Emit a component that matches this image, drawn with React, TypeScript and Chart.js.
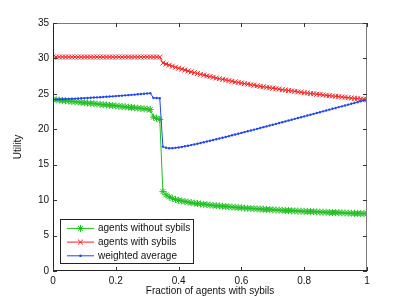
import React, { useEffect, useRef } from "react";
import { Chart, registerables } from "chart.js";

Chart.register(...registerables);

const fractions = [
  0, 0.01, 0.02, 0.03, 0.04, 0.05, 0.06, 0.07, 0.08, 0.09,
  0.1, 0.11, 0.12, 0.13, 0.14, 0.15, 0.16, 0.17, 0.18, 0.19,
  0.2, 0.21, 0.22, 0.23, 0.24, 0.25, 0.26, 0.27, 0.28, 0.29,
  0.3, 0.31, 0.32, 0.33, 0.34, 0.35, 0.36, 0.37, 0.38, 0.39,
  0.4, 0.41, 0.42, 0.43, 0.44, 0.45, 0.46, 0.47, 0.48, 0.49,
  0.5, 0.51, 0.52, 0.53, 0.54, 0.55, 0.56, 0.57, 0.58, 0.59,
  0.6, 0.61, 0.62, 0.63, 0.64, 0.65, 0.66, 0.67, 0.68, 0.69,
  0.7, 0.71, 0.72, 0.73, 0.74, 0.75, 0.76, 0.77, 0.78, 0.79,
  0.8, 0.81, 0.82, 0.83, 0.84, 0.85, 0.86, 0.87, 0.88, 0.89,
  0.9, 0.91, 0.92, 0.93, 0.94, 0.95, 0.96, 0.97, 0.98, 0.99,
  1,
];

const withoutSybils = [
  24.2, 24.16, 24.11, 24.07, 24.02, 23.98, 23.93, 23.89, 23.84, 23.8,
  23.75, 23.71, 23.66, 23.62, 23.57, 23.53, 23.48, 23.44, 23.39, 23.35,
  23.3, 23.26, 23.21, 23.17, 23.12, 23.08, 23.03, 22.99, 22.94, 22.9,
  22.85, 22.78, 21.72, 21.55, 21.4, 11.2, 10.75, 10.45, 10.25, 10.1,
  9.98, 9.88, 9.8, 9.72, 9.65, 9.58, 9.52, 9.46, 9.41, 9.36,
  9.31, 9.27, 9.22, 9.18, 9.14, 9.1, 9.06, 9.03, 8.99, 8.96,
  8.92, 8.89, 8.86, 8.83, 8.8, 8.77, 8.74, 8.72, 8.69, 8.66,
  8.64, 8.61, 8.59, 8.57, 8.54, 8.52, 8.5, 8.48, 8.46, 8.44,
  8.42, 8.4, 8.38, 8.36, 8.34, 8.32, 8.3, 8.29, 8.27, 8.25,
  8.24, 8.22, 8.21, 8.19, 8.17, 8.16, 8.14, 8.13, 8.11, 8.1,
  8.08,
];

const withSybils = [
  30.2, 30.2, 30.2, 30.2, 30.2, 30.2, 30.2, 30.2, 30.2, 30.2,
  30.2, 30.2, 30.2, 30.2, 30.2, 30.2, 30.2, 30.2, 30.2, 30.2,
  30.2, 30.2, 30.2, 30.2, 30.2, 30.2, 30.2, 30.2, 30.2, 30.2,
  30.2, 30.2, 30.2, 30.2, 30.2, 29.35, 29.2, 29.05, 28.9, 28.76,
  28.62, 28.49, 28.36, 28.23, 28.11, 27.99, 27.87, 27.76, 27.65, 27.54,
  27.44, 27.34, 27.24, 27.14, 27.05, 26.96, 26.87, 26.78, 26.69, 26.61,
  26.53, 26.45, 26.37, 26.29, 26.22, 26.14, 26.07, 26.0, 25.93, 25.86,
  25.79, 25.72, 25.66, 25.59, 25.53, 25.47, 25.41, 25.35, 25.29, 25.23,
  25.17, 25.12, 25.06, 25.01, 24.95, 24.9, 24.85, 24.8, 24.75, 24.7,
  24.65, 24.6, 24.55, 24.5, 24.46, 24.41, 24.37, 24.32, 24.28, 24.23,
  24.19,
];

const weightedAverage = [
  24.2, 24.22, 24.23, 24.25, 24.27, 24.29, 24.31, 24.33, 24.35, 24.38,
  24.4, 24.42, 24.45, 24.48, 24.5, 24.53, 24.56, 24.59, 24.62, 24.65,
  24.68, 24.72, 24.75, 24.79, 24.82, 24.86, 24.89, 24.94, 24.97, 25.02,
  25.06, 25.08, 24.43, 24.41, 24.39, 17.55, 17.39, 17.33, 17.34, 17.38,
  17.44, 17.51, 17.6, 17.68, 17.77, 17.87, 17.96, 18.06, 18.17, 18.27,
  18.38, 18.49, 18.59, 18.7, 18.81, 18.92, 19.03, 19.15, 19.26, 19.37,
  19.49, 19.6, 19.72, 19.83, 19.95, 20.06, 20.18, 20.3, 20.41, 20.53,
  20.65, 20.76, 20.88, 21.0, 21.11, 21.23, 21.35, 21.47, 21.59, 21.7,
  21.82, 21.94, 22.06, 22.18, 22.29, 22.41, 22.53, 22.65, 22.77, 22.89,
  23.01, 23.13, 23.24, 23.36, 23.48, 23.6, 23.72, 23.83, 23.96, 24.07,
  24.19,
];

const seriesLabels = ["agents without sybils", "agents with sybils", "weighted average"];
const xTicks = [0, 0.2, 0.4, 0.6, 0.8, 1];
const yTicks = [0, 5, 10, 15, 20, 25, 30, 35];
const xTitle = "Fraction of agents with sybils";
const yTitle = "Utility";

const FONT = "'Liberation Sans', Arial, Helvetica, sans-serif";
const GREEN = "#1fbf1f";
const RED = "#f02424";
const BLUE = "#2244f2";

function drawMarker(ctx: CanvasRenderingContext2D, style: string, x: number, y: number, r: number, color: string) {
  ctx.save();
  ctx.strokeStyle = color;
  ctx.fillStyle = color;
  ctx.lineWidth = 1;
  ctx.beginPath();
  if (style === "star") {
    ctx.moveTo(x - r, y); ctx.lineTo(x + r, y);
    ctx.moveTo(x, y - r); ctx.lineTo(x, y + r);
    const d = r * 0.707;
    ctx.moveTo(x - d, y - d); ctx.lineTo(x + d, y + d);
    ctx.moveTo(x - d, y + d); ctx.lineTo(x + d, y - d);
    ctx.stroke();
  } else if (style === "crossRot") {
    const d = r * 0.707;
    ctx.moveTo(x - d, y - d); ctx.lineTo(x + d, y + d);
    ctx.moveTo(x - d, y + d); ctx.lineTo(x + d, y - d);
    ctx.stroke();
  } else {
    ctx.arc(x, y, r, 0, Math.PI * 2);
    ctx.fill();
  }
  ctx.restore();
}

const framePlugin = {
  id: "matlabFrame",
  afterDraw(chart: any) {
    const ctx: CanvasRenderingContext2D = chart.ctx;
    const { left, right, top, bottom } = chart.chartArea;
    const xs = chart.scales.x;
    const ys = chart.scales.y;
    ctx.save();
    ctx.lineWidth = 1;
    ctx.strokeStyle = "#7a7a7a";
    ctx.beginPath();
    ctx.moveTo(left, top + 0.5); ctx.lineTo(right, top + 0.5);
    ctx.moveTo(right - 0.5, top); ctx.lineTo(right - 0.5, bottom);
    ctx.stroke();
    ctx.strokeStyle = "#222";
    ctx.beginPath();
    ctx.moveTo(left + 0.5, top); ctx.lineTo(left + 0.5, bottom);
    ctx.moveTo(left, bottom - 0.5); ctx.lineTo(right, bottom - 0.5);
    ctx.stroke();
    const tl = 4;
    ctx.strokeStyle = "#333";
    ctx.beginPath();
    xTicks.forEach((v) => {
      const px = Math.round(xs.getPixelForValue(v)) + 0.5;
      ctx.moveTo(px, bottom); ctx.lineTo(px, bottom - tl);
      ctx.moveTo(px, top); ctx.lineTo(px, top + tl);
    });
    yTicks.forEach((v) => {
      const py = Math.round(ys.getPixelForValue(v)) + 0.5;
      ctx.moveTo(left, py); ctx.lineTo(left + tl, py);
      ctx.moveTo(right, py); ctx.lineTo(right - tl, py);
    });
    ctx.stroke();

    const styles = ["star", "crossRot", "circle"];
    const radii = [3.5, 3.5, 1.3];
    ctx.font = `10px ${FONT}`;
    const textW = Math.max(...seriesLabels.map((s) => ctx.measureText(s).width));
    const lx = left + 7;
    const rowH = 13.7;
    const lh = rowH * 3 + 2.5;
    const lw = 7 + 27 + 4 + textW + 3;
    const ly = bottom - 8 - lh;
    ctx.fillStyle = "#fff";
    ctx.fillRect(lx, ly, lw, lh);
    ctx.strokeStyle = "#222";
    ctx.strokeRect(Math.round(lx) + 0.5, Math.round(ly) + 0.5, Math.round(lw), Math.round(lh));
    chart.data.datasets.forEach((ds: any, i: number) => {
      const cy = ly + 9 + i * rowH;
      ctx.strokeStyle = ds.borderColor;
      ctx.lineWidth = 1;
      ctx.beginPath();
      ctx.moveTo(lx + 7, cy); ctx.lineTo(lx + 34, cy);
      ctx.stroke();
      drawMarker(ctx, styles[i], lx + 20.5, cy, radii[i], ds.borderColor);
      ctx.fillStyle = "#111";
      ctx.textBaseline = "middle";
      ctx.textAlign = "left";
      ctx.fillText(ds.label, lx + 38, cy);
    });
    ctx.restore();
  },
};

export default function App() {
  const ref = useRef<HTMLCanvasElement | null>(null);

  useEffect(() => {
    if (!ref.current) return;
    const mk = (ys: number[]) => fractions.map((x, i) => ({ x, y: ys[i] }));
    const chart = new Chart(ref.current, {
      type: "line",
      data: {
        datasets: [
          {
            label: seriesLabels[0],
            data: mk(withoutSybils),
            borderColor: GREEN,
            backgroundColor: GREEN,
            borderWidth: 1,
            pointStyle: "star",
            pointRadius: 3.5,
            pointBorderWidth: 1,
            order: 2,
          },
          {
            label: seriesLabels[1],
            data: mk(withSybils),
            borderColor: RED,
            backgroundColor: RED,
            borderWidth: 1,
            pointStyle: "crossRot",
            pointRadius: 3.5,
            pointBorderWidth: 1,
            order: 1,
          },
          {
            label: seriesLabels[2],
            data: mk(weightedAverage),
            borderColor: BLUE,
            backgroundColor: BLUE,
            borderWidth: 1,
            pointStyle: "circle",
            pointRadius: 1.2,
            pointBorderWidth: 0,
            order: 0,
          },
        ],
      },
      options: {
        animation: false,
        responsive: false,
        events: [],
        layout: { padding: { top: 23, right: 38, left: 0, bottom: 0 } },
        plugins: { legend: { display: false }, tooltip: { enabled: false } },
        scales: {
          x: {
            type: "linear",
            min: 0,
            max: 1,
            grid: { display: false, drawTicks: false },
            border: { display: false },
            afterBuildTicks: (s: any) => {
              s.ticks = xTicks.map((v) => ({ value: v }));
            },
            afterFit: (s: any) => {
              s.height = 34;
            },
            ticks: {
              color: "#111",
              font: { family: FONT, size: 10 },
              padding: 4,
              maxRotation: 0,
              autoSkip: false,
              callback: (v: any) => String(v),
            },
            title: {
              display: true,
              text: xTitle,
              color: "#111",
              font: { family: FONT, size: 10 },
              padding: { top: 8, bottom: 8 },
            },
          },
          y: {
            type: "linear",
            min: 0,
            max: 35,
            grid: { display: false, drawTicks: false },
            border: { display: false },
            afterBuildTicks: (s: any) => {
              s.ticks = yTicks.map((v) => ({ value: v }));
            },
            afterFit: (s: any) => {
              s.width = 53;
            },
            ticks: {
              color: "#111",
              font: { family: FONT, size: 10 },
              padding: 4,
              autoSkip: false,
              callback: (v: any) => String(v),
            },
            title: {
              display: true,
              text: yTitle,
              color: "#111",
              font: { family: FONT, size: 10 },
              padding: { top: 12, bottom: 12 },
            },
          },
        },
      },
      plugins: [framePlugin],
    });
    return () => chart.destroy();
  }, []);

  return (
    <div style={{ position: "absolute", left: 0, top: 0, width: 405, height: 305, background: "#fff" }}>
      <canvas ref={ref} width={405} height={305} style={{ width: 405, height: 305, display: "block" }} />
    </div>
  );
}
